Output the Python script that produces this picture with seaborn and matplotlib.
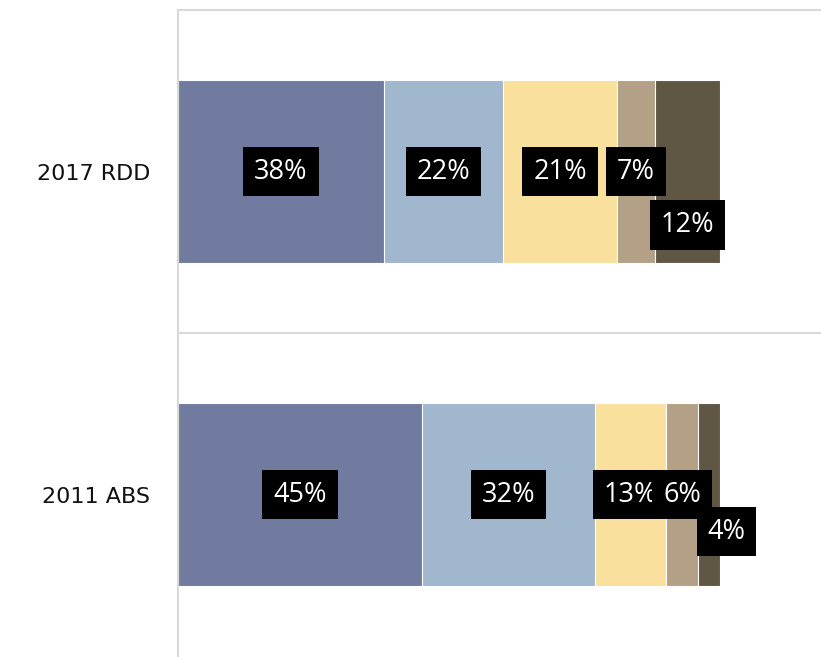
import numpy as np
import pandas as pd
import matplotlib
matplotlib.use("Agg")
import matplotlib.pyplot as plt
import seaborn as sns

# datos (porcentajes por segmento)
categorias = ["2017 RDD", "2011 ABS"]
valores_2017_rdd = [38, 22, 21, 7, 12]
valores_2011_abs = [45, 32, 13, 6, 4]
colores = ["#717ba0", "#a0b7ce", "#f9e09d", "#b4a087", "#5f5744"]

sns.set_style("white")
plt.rcParams["font.family"] = ["Open Sans", "DejaVu Sans"]

valores = np.array([valores_2017_rdd, valores_2011_abs])
acumulado = valores.cumsum(axis=1)

fig = plt.figure(figsize=(8.21, 6.57), dpi=100)
ax = fig.add_axes([178 / 821, 1 / 657, 643 / 821, 646 / 657])

# barras apiladas: se dibuja del acumulado mayor al menor
for i in reversed(range(valores.shape[1])):
    df = pd.DataFrame({"categoria": categorias, "fin": acumulado[:, i]})
    sns.barplot(data=df, x="fin", y="categoria", orient="h", color=colores[i],
                width=0.567, edgecolor="white", linewidth=0.8, ax=ax,
                saturation=1)

# etiquetas; algunas se desplazan para no taparse (como en Excel)
desplaz = {(0, 4): (0, 0.165), (1, 4): (3.2, 0.115)}
for r in range(valores.shape[0]):
    for i in range(valores.shape[1]):
        v = valores[r, i]
        cx = acumulado[r, i] - v / 2
        dx, dy = desplaz.get((r, i), (0, 0))
        ax.text(cx + dx, r + dy, f"{v}%", ha="center", va="center",
                color="white", fontsize=19.5,
                bbox=dict(boxstyle="square,pad=0.4", fc="black", ec="none"))

ax.set_xlim(0, 118.63)
ax.set_ylim(1.5, -0.5)
ax.set_xlabel("")
ax.set_ylabel("")
ax.set_xticks([])
ax.set_yticks([-0.5, 0.5], minor=True)
ax.grid(True, which="minor", axis="y", color="#d9d9d9", linewidth=1.5)
ax.tick_params(axis="y", which="both", length=0, pad=20)
for lab in ax.get_yticklabels():
    lab.set_color("#111111")
    lab.set_fontfamily("DejaVu Sans")
    lab.set_fontsize(16)
for s in ["right", "bottom"]:
    ax.spines[s].set_visible(False)
for s in ["left", "top"]:
    ax.spines[s].set_color("#d9d9d9")
    ax.spines[s].set_linewidth(1.5)
ax.set_axisbelow(True)

fig.savefig("out.png", dpi=100)
